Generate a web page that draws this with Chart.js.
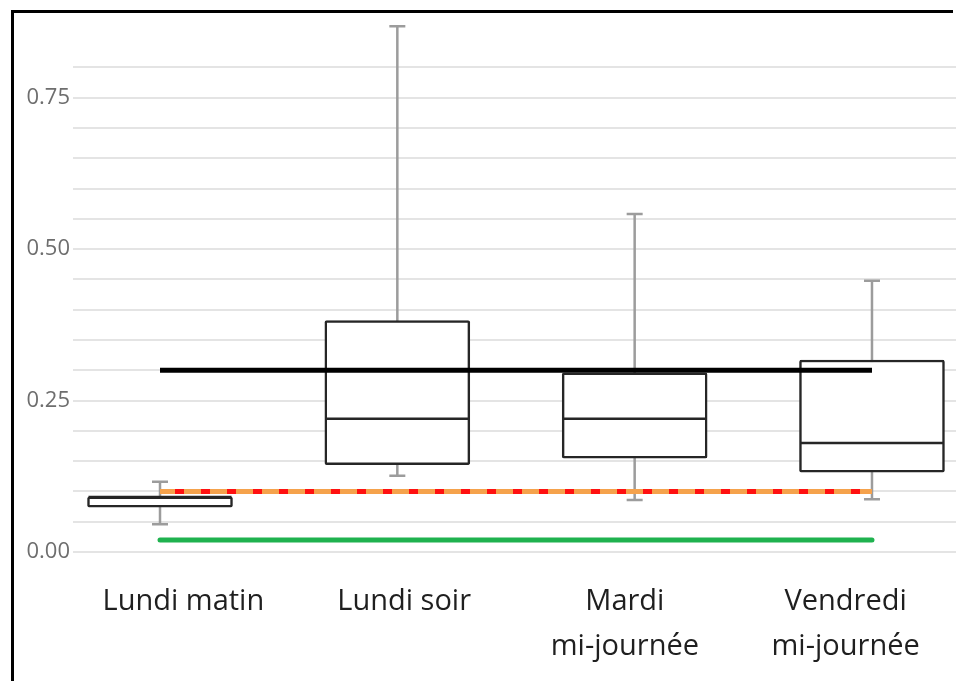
<!DOCTYPE html>
<html>
<head>
<meta charset="utf-8">
<script src="https://cdn.jsdelivr.net/npm/chart.js@4/dist/chart.umd.min.js"></script>
<style>
  html, body { margin: 0; padding: 0; background: #fff; overflow: hidden; width: 956px; height: 681px; }
  #wrap { position: relative; width: 956px; height: 681px; overflow: hidden; }
  #c { position: absolute; left: 0; top: 0; display: block; }
  .bar { position: absolute; background: #000; pointer-events: none; }
</style>
</head>
<body>
<div id="wrap">
  <canvas id="c" width="956" height="681"></canvas>
  <div class="bar" style="left:11px; top:10px; width:942px; height:3px;"></div>
  <div class="bar" style="left:11px; top:10px; width:3px; height:671px;"></div>
</div>
<script>
// ---- data ----
const categories = ['Lundi matin', 'Lundi soir', ['Mardi', 'mi-journée'], ['Vendredi', 'mi-journée']];
const categoryIndex = [1, 2, 3, 4];
const whiskerMin = [0.046, 0.126, 0.086, 0.087];
const q1 = [0.074, 0.144, 0.155, 0.132];
const median = [0.091, 0.220, 0.220, 0.180];
const q3 = [0.091, 0.382, 0.296, 0.317];
const whiskerMax = [0.116, 0.868, 0.558, 0.448];
const refBlack = [0.30, 0.30, 0.30, 0.30];
const refOrange = [0.10, 0.10, 0.10, 0.10];
const refGreen = [0.02, 0.02, 0.02, 0.02];
const yTickStep = 0.05;
const yLabelStep = 0.25;

const pts = arr => arr.map((v, i) => ({ x: categoryIndex[i], y: v }));

Chart.defaults.font.family = "'Open Sans', sans-serif";

const boxExtras = {
  id: 'boxExtras',
  beforeDatasetsDraw(chart) {
    const ctx = chart.ctx, xs = chart.scales.xb, ys = chart.scales.y;
    ctx.save();
    ctx.strokeStyle = '#9c9c9c';
    ctx.lineWidth = 2.5;
    categoryIndex.forEach((c, i) => {
      const x = xs.getPixelForValue(c);
      const yMin = ys.getPixelForValue(whiskerMin[i]);
      const yMax = ys.getPixelForValue(whiskerMax[i]);
      ctx.beginPath();
      ctx.moveTo(x, yMin); ctx.lineTo(x, yMax);
      ctx.moveTo(x - 8, yMin); ctx.lineTo(x + 8, yMin);
      ctx.moveTo(x - 8, yMax); ctx.lineTo(x + 8, yMax);
      ctx.stroke();
    });
    ctx.restore();
  },
  afterDatasetDraw(chart, args) {
    if (args.index !== 0) return;
    const ctx = chart.ctx, ys = chart.scales.y;
    const meta = chart.getDatasetMeta(0);
    ctx.save();
    ctx.strokeStyle = '#262626';
    ctx.lineWidth = 2.5;
    meta.data.forEach((bar, i) => {
      const y = ys.getPixelForValue(median[i]);
      ctx.beginPath();
      ctx.moveTo(bar.x - bar.width / 2 + 1, y);
      ctx.lineTo(bar.x + bar.width / 2 - 1, y);
      ctx.stroke();
    });
    ctx.restore();
  }
};

new Chart(document.getElementById('c'), {
  data: {
    labels: categories,
    datasets: [
      {
        type: 'bar', xAxisID: 'xb', yAxisID: 'y', order: 10,
        data: categoryIndex.map((c, i) => ({ x: c, y: [q1[i], q3[i]] })),
        backgroundColor: '#ffffff', borderColor: '#262626', borderWidth: 2.5,
        borderSkipped: false, borderRadius: 2, barThickness: 145
      },
      {
        type: 'line', xAxisID: 'xb', yAxisID: 'y', order: 3,
        data: pts(refOrange), borderColor: '#f5a24c', borderWidth: 5,
        pointRadius: 0, fill: false
      },
      {
        type: 'line', xAxisID: 'xb', yAxisID: 'y', order: 2,
        data: pts(refOrange), borderColor: '#ff1010', borderWidth: 5,
        borderDash: [9, 17], borderDashOffset: 11, pointRadius: 0, fill: false
      },
      {
        type: 'line', xAxisID: 'xb', yAxisID: 'y', order: 2,
        data: pts(refBlack), borderColor: '#000000', borderWidth: 5,
        pointRadius: 0, fill: false
      },
      {
        type: 'line', xAxisID: 'xb', yAxisID: 'y', order: 2,
        data: pts(refGreen), borderColor: '#1fb24f', borderWidth: 5,
        borderCapStyle: 'round', pointRadius: 0, fill: false
      }
    ]
  },
  options: {
    responsive: false,
    animation: false,
    layout: { padding: { top: 19, left: 0, right: 0, bottom: 0 } },
    plugins: { legend: { display: false }, tooltip: { enabled: false } },
    scales: {
      x: {
        type: 'category', position: 'bottom', offset: true,
        grid: { display: false, drawTicks: false },
        border: { display: false },
        ticks: {
          color: '#1f1f1f', padding: 27, maxRotation: 0, autoSkip: false,
          font: { size: 29, lineHeight: 1.55, weight: '500' }
        },
        afterFit(scale) { scale.height = 129; }
      },
      xb: {
        type: 'linear', display: false, offset: false,
        grid: { offset: false },
        min: 0.6334, max: 4.354
      },
      y: {
        type: 'linear', min: 0, max: 0.88,
        grid: { color: '#e4e4e4', lineWidth: 2, drawTicks: false },
        border: { display: false },
        ticks: {
          stepSize: yTickStep, padding: 3, color: '#6e6e6e',
          font: { size: 22 },
          callback(v) {
            const r = Math.round(v / yLabelStep) * yLabelStep;
            return Math.abs(r - v) < 1e-6 ? v.toFixed(2) : '';
          }
        },
        afterBuildTicks(scale) {
          scale.ticks = scale.ticks.filter(t => {
            const r = Math.round(t.value / yTickStep) * yTickStep;
            return Math.abs(r - t.value) < 1e-6;
          });
        },
        afterFit(scale) { scale.width = 73; }
      }
    }
  },
  plugins: [boxExtras]
});
</script>
</body>
</html>
